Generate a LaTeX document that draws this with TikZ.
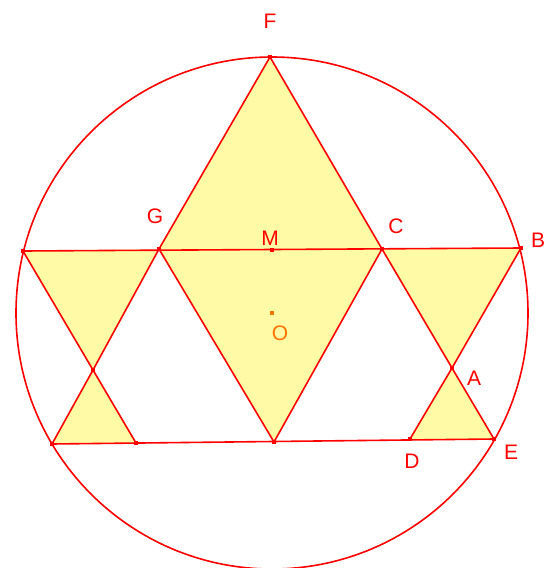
\documentclass[tikz,border=0pt]{standalone}
\usepackage{fontspec}
\setmainfont{Liberation Sans}
\begin{document}
\begin{tikzpicture}[x=1pt,y=-1pt,
  ln/.style={draw=red, line width=1.6pt},
  fillc/.style={fill=yellow!35},
  mk/.style={fill=red, minimum size=4pt, inner sep=0pt, rectangle},
  lbl/.style={text=red, font=\fontsize{21}{21}\selectfont, inner sep=0pt}]
\useasboundingbox (0,0) rectangle (555,568);
\coordinate (F) at (270,57);
\coordinate (G) at (159,249);
\coordinate (M) at (272,250);
\coordinate (C) at (382,249);
\coordinate (B) at (521,248);
\coordinate (L) at (23,251);
\coordinate (X) at (93,370);
\coordinate (P1) at (52,444);
\coordinate (P2) at (136,443);
\coordinate (N) at (274,442);
\coordinate (D) at (410,439);
\coordinate (E) at (494,439);
\coordinate (A) at (452,368);
\coordinate (O) at (272,313);
% fills
\fill[fillc] (F)--(G)--(N)--(C)--cycle;
\fill[fillc] (L)--(G)--(X)--cycle;
\fill[fillc] (X)--(P1)--(P2)--cycle;
\fill[fillc] (C)--(B)--(A)--cycle;
\fill[fillc] (A)--(D)--(E)--cycle;
% circle
\draw[ln] (O) circle (256);
% lines
\draw[ln] (L)--(B);
\draw[ln] (P1)--(E);
\draw[ln] (F)--(G)--(X)--(P1);
\draw[ln] (F)--(C)--(A)--(E);
\draw[ln] (L)--(X)--(P2);
\draw[ln] (B)--(A)--(D);
\draw[ln] (G)--(N)--(C);
% marks
\foreach \p in {F,G,M,C,B,L,X,P1,P2,N,D,E,A} \node[mk] at (\p) {};
\node[fill=orange!90!red, minimum size=4pt, inner sep=0pt] at (O) {};
% labels
\node[lbl] (lF) at (270,21) {F};
\node[lbl] (lG) at (155,216) {G};
\node[lbl] (lM) at (270,238) {M};
\node[lbl] (lC) at (396,226) {C};
\node[lbl] (lB) at (538,240) {B};
\node[lbl, text=orange!90!red] (lO) at (280,333) {O};
\node[lbl] (lA) at (474,378) {A};
\node[lbl] (lD) at (412,461) {D};
\node[lbl] (lE) at (511,452) {E};
\end{tikzpicture}
\end{document}
